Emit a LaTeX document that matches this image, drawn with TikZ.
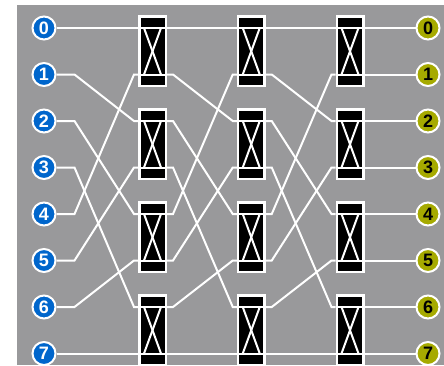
\documentclass[tikz,border=0pt]{standalone}
\usepackage{fontspec}
\setsansfont{Liberation Sans}
\usepackage{xcolor}
\definecolor{BgGray}{RGB}{153,153,155}
\definecolor{PortBlue}{RGB}{0,102,204}
\definecolor{PortOlive}{RGB}{166,170,0}
\usepackage{tikz}
\usetikzlibrary{calc}
\tikzset{
  % Input / output ports
  incirc/.style={
    circle, draw=white, line width=2pt,
    fill=PortBlue, text=white,
    minimum size=23pt, inner sep=0pt,
    font=\sffamily\bfseries\fontsize{18}{18}\selectfont
  },
  outcirc/.style={incirc, fill=PortOlive, text=black},
  % 2x2 switch element
  swbox/.style={
    rectangle, draw=white, line width=2.5pt, fill=black,
    minimum width=26.5pt, minimum height=69.5pt, inner sep=0pt
  },
  % Links
  wire/.style={white, line width=2pt},
}

\begin{document}
\begin{tikzpicture}[x=1pt, y=-1pt]
  \useasboundingbox (0,0) rectangle (444,365);
  \fill[BgGray] (17,5) rectangle (444,365);

  % Ports and switch terminals
  \foreach \r in {0,...,7} {
    \pgfmathsetmacro\yy{28+46.5*\r}
    \node[incirc] (in\r) at (44,\yy) {\r};
    \node[outcirc] (out\r) at (428,\yy) {\r};
    \foreach \c in {1,2,3} {
      \pgfmathsetmacro\xx{152.5+98.75*(\c-1)}
      \coordinate (l\c-\r) at (\xx-14.5,\yy);
      \coordinate (r\c-\r) at (\xx+14.5,\yy);
    }
  }

  % Perfect shuffle links
  \foreach \r in {0,...,7} {
    \pgfmathtruncatemacro\t{\r<4 ? 2*\r : 2*\r-7}
    \draw[wire] (in\r.east) -- ++(18,0) -- ([xshift=-4pt]l1-\t) -- (l1-\t);
    \draw[wire] (r1-\r) -- ++(6,0) -- ([xshift=-4pt]l2-\t) -- (l2-\t);
    \draw[wire] (r2-\r) -- ++(6,0) -- ([xshift=-4pt]l3-\t) -- (l3-\t);
    \draw[wire] (r3-\r) -- (out\r.west);
  }

  % Switch stages
  \foreach \c in {1,2,3} {
    \foreach \k in {0,...,3} {
      \pgfmathtruncatemacro\a{2*\k}
      \pgfmathtruncatemacro\b{2*\k+1}
      \node[swbox] (sw\c-\k) at ($(l\c-\a)!0.5!(r\c-\b)$) {};
      \draw[wire] (l\c-\a) -- (r\c-\a);
      \draw[wire] (l\c-\b) -- (r\c-\b);
      \draw[wire] ([xshift=6pt]l\c-\a) -- ([xshift=-6pt]r\c-\b);
      \draw[wire] ([xshift=-6pt]r\c-\a) -- ([xshift=6pt]l\c-\b);
    }
  }
\end{tikzpicture}
\end{document}
